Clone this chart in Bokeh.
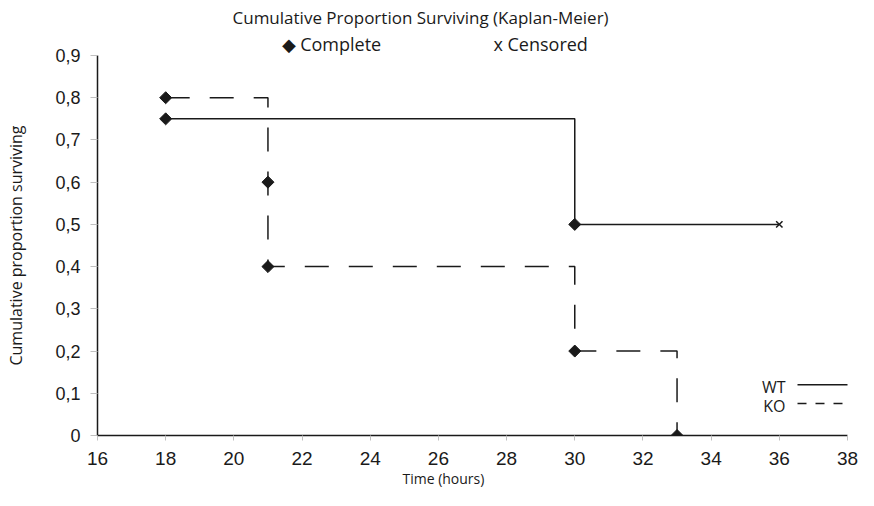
import math
from bokeh.plotting import figure
from bokeh.models import Title, FixedTicker, Range1d
from bokeh.embed import file_html
from bokeh.resources import INLINE
from bokeh.core.properties import value

# ---- data ----
wt_time = [18, 30, 36]
wt_surv = [0.75, 0.5, 0.5]
wt_censored = [False, False, True]

ko_time = [18, 21, 21, 30, 33]
ko_surv = [0.8, 0.6, 0.4, 0.2, 0.0]
ko_censored = [False, False, False, False, False]

x_ticks = [16, 18, 20, 22, 24, 26, 28, 30, 32, 34, 36, 38]
y_ticks = [0.0, 0.1, 0.2, 0.3, 0.4, 0.5, 0.6, 0.7, 0.8, 0.9]
y_tick_labels = ["0", "0,1", "0,2", "0,3", "0,4", "0,5", "0,6", "0,7", "0,8", "0,9"]

title_text = "Cumulative Proportion Surviving (Kaplan-Meier)"
complete_text = "\u25c6 Complete"
censored_text = "x Censored"
x_label = "Time (hours)"
y_label = "Cumulative proportion surviving"
series_names = ["WT", "KO"]


def step_path(t, s):
    xs, ys = [t[0]], [s[0]]
    for i in range(1, len(t)):
        xs += [t[i], t[i]]
        ys += [s[i - 1], s[i]]
    return xs, ys


# ---- layout constants (pixels) ----
W, H = 858, 490
FL, FR, FT, FB = 97, 847, 55, 436  # frame edges in figure px
XMIN, XMAX, YMIN, YMAX = 16, 38, 0.0, 0.9


def px_x(px):
    return XMIN + (px - FL) / (FR - FL) * (XMAX - XMIN)


def px_y(py):
    return YMIN + (FB - py) / (FB - FT) * (YMAX - YMIN)


p = figure(width=W, height=H, title=None,
           x_range=Range1d(XMIN, XMAX), y_range=Range1d(YMIN, YMAX),
           output_backend="svg", toolbar_location=None,
           min_border_left=FL, min_border_right=W - FR,
           min_border_top=FT, min_border_bottom=H - FB)
p.outline_line_color = None
p.xgrid.visible = False
p.ygrid.visible = False
p.background_fill_color = "white"
p.border_fill_color = "white"

ink = "#1a1a1a"
tick_gray = "#c0c0c0"

# axes
xa = p.xaxis[0]
xa.ticker = FixedTicker(ticks=x_ticks)
xa.axis_line_color = ink
xa.axis_line_width = 1.5
xa.major_tick_line_color = tick_gray
xa.major_tick_out = 5
xa.major_tick_in = 0
xa.minor_tick_line_color = None
xa.major_label_text_font = "Liberation Sans"
xa.major_label_text_font_size = "19px"
xa.major_label_text_color = ink
xa.major_label_standoff = 11
xa.axis_label = x_label + "\u00a0" * 16
xa.axis_label_text_font = "Open Sans"
xa.axis_label_text_font_size = "14px"
xa.axis_label_text_font_style = "normal"
xa.axis_label_text_color = ink
xa.axis_label_standoff = 1

ya = p.yaxis[0]
ya.ticker = FixedTicker(ticks=y_ticks)
ya.major_label_overrides = {t: l for t, l in zip(y_ticks, y_tick_labels)}
ya.axis_line_color = ink
ya.axis_line_width = 1.5
ya.major_tick_line_color = tick_gray
ya.major_tick_out = 7
ya.major_tick_in = 0
ya.minor_tick_line_color = None
ya.major_label_text_font = "Liberation Sans"
ya.major_label_text_font_size = "18px"
ya.major_label_text_color = ink
ya.major_label_standoff = 10
ya.axis_label = y_label
ya.axis_label_text_font = "Open Sans"
ya.axis_label_text_font_size = "16px"
ya.axis_label_text_font_style = "normal"
ya.axis_label_text_color = ink
ya.axis_label_standoff = 25

# series
wx, wy = step_path(wt_time, wt_surv)
kx, ky = step_path(ko_time, ko_surv)
p.line(wx, wy, line_color=ink, line_width=1.5)
p.line(kx, ky, line_color=ink, line_width=1.5, line_dash="24 20")

for t, s, c in ((wt_time, wt_surv, wt_censored), (ko_time, ko_surv, ko_censored)):
    comp_x = [a for a, cc in zip(t, c) if not cc]
    comp_y = [b for b, cc in zip(s, c) if not cc]
    cen_x = [a for a, cc in zip(t, c) if cc]
    cen_y = [b for b, cc in zip(s, c) if cc]
    p.scatter(comp_x, comp_y, marker="square", angle=math.pi / 4, size=8.5,
              fill_color=ink, line_color=ink)
    if cen_x:
        p.scatter(cen_x, cen_y, marker="x", size=9, line_color=ink, line_width=1.5)

# titles (inner one added first)
gap = "\u00a0" * 24
p.add_layout(Title(text=complete_text + gap + censored_text, align="left", offset=184,
                   standoff=0, text_font="Open Sans", text_font_size="18px",
                   text_font_style="normal", text_color=ink), "above")
p.add_layout(Title(text=title_text, align="left", offset=135,
                   standoff=1, text_font="Open Sans", text_font_size="17px",
                   text_font_style="normal", text_color=ink), "above")

# manual legend (label left of line sample)
leg_text_right = 785
leg_rows = [387, 406]
leg_lines = [(797, 848), (797, 842)]
dashes = [None, "9 9"]
for name, row, (l0, l1), dash in zip(series_names, leg_rows, leg_lines, dashes):
    p.text(x=[px_x(leg_text_right)], y=[px_y(row)], text=[name], text_align="right",
           text_baseline="middle", text_font=value("Open Sans"), text_font_size="16px",
           text_color=ink)
    kw = dict(line_color=ink, line_width=1.5)
    if dash:
        kw["line_dash"] = dash
    p.segment(x0=[px_x(l0)], y0=[px_y(row - 2)], x1=[px_x(l1)],
              y1=[px_y(row - 2)], **kw)

open("out.html", "w").write(file_html(p, INLINE))
